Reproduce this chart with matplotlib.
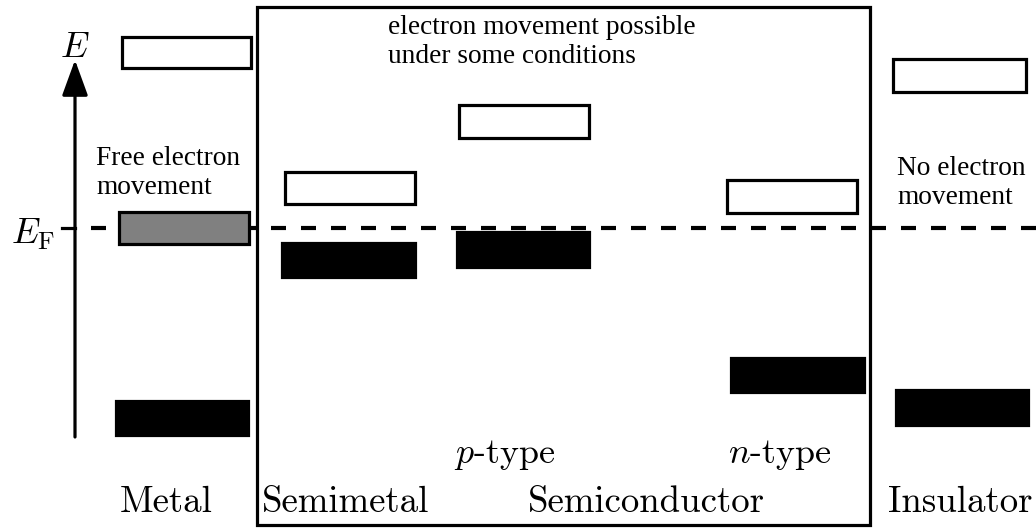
import matplotlib.pyplot as plt
from matplotlib.patches import Rectangle

plt.rcParams['mathtext.fontset'] = 'cm'
plt.rcParams['lines.scale_dashes'] = False

# band boxes in picture units: (x0, x1, y_top, y_bottom)
band_names = ['metal_cb', 'metal_vb_mid', 'metal_vb',
              'semimetal_cb', 'semimetal_vb',
              'p_cb', 'p_vb', 'n_cb', 'n_vb',
              'ins_cb', 'ins_vb']
band_x0 = [122, 119, 116, 285, 282, 459, 457, 727, 731, 893, 896]
band_x1 = [251, 249, 248, 415, 415, 589, 589, 857, 864, 1026, 1028]
band_top = [37, 212, 401, 172, 243, 105, 232, 180, 358, 59, 390]
band_bot = [68, 244, 435, 204, 277, 138, 267, 213, 392, 92, 425]
band_fill = ['white', '#808080', 'black', 'white', 'black',
             'white', 'black', 'white', 'black', 'white', 'black']

# category labels along the bottom
cat_labels = ['Metal', 'Semimetal', 'Semiconductor', 'Insulator']
cat_x = [166, 346, 646, 960]
sub_labels = ['$p$-type', '$n$-type']
sub_x = [505, 780]

# energy axis and Fermi level
axis_x, axis_y0, axis_y1 = 75, 437, 60
fermi_y = 228

fig = plt.figure(figsize=(10.36, 5.29), dpi=100)
ax = fig.add_axes([0, 0, 1, 1])
ax.set_xlim(0, 1036)
ax.set_ylim(529, 0)
ax.axis('off')

# bands
for x0, x1, yt, yb, fc in zip(band_x0, band_x1, band_top, band_bot, band_fill):
    ax.add_patch(Rectangle((x0, yt), x1 - x0, yb - yt, facecolor=fc,
                           edgecolor='black', lw=2.3, zorder=3))

# semiconductor/semimetal frame
ax.add_patch(Rectangle((257, 7), 870 - 257, 525 - 7, fill=False,
                       edgecolor='black', lw=2.3, zorder=4))

# Fermi level
ax.plot([91, 1036], [fermi_y, fermi_y], color='black', lw=3,
        dashes=(10.8, 10.8), zorder=2)
ax.plot([62, axis_x], [fermi_y, fermi_y], color='black', lw=2.3)

# energy axis arrow
ax.annotate('', xy=(axis_x, axis_y1), xytext=(axis_x, axis_y0),
            arrowprops=dict(arrowstyle='-|>,head_length=0.55,head_width=0.2',
                            mutation_scale=40, lw=2.3, color='black',
                            shrinkA=0, shrinkB=0))
ax.text(axis_x, 57, '$E$', fontsize=26, ha='center', va='baseline')
ax.text(55, 244, r'$E_{\mathrm{F}}$', fontsize=26, ha='right', va='baseline')

# labels
for lab, x in zip(cat_labels, cat_x):
    ax.text(x, 512, lab, fontsize=26.5, fontfamily='cmr10',
            ha='center', va='baseline')
for lab, x in zip(sub_labels, sub_x):
    ax.text(x, 463, lab, fontsize=26, fontfamily='cmr10',
            ha='center', va='baseline')

serif = dict(fontsize=19.7, fontfamily='Liberation Serif', va='top',
             ha='left', linespacing=1.2)
ax.text(388, 15, 'electron movement possible\nunder some conditions', **serif)
ax.text(96, 146, 'Free electron\nmovement', **serif)
ax.text(897, 156, 'No electron\nmovement', **serif)

fig.savefig('out.png', dpi=100)
